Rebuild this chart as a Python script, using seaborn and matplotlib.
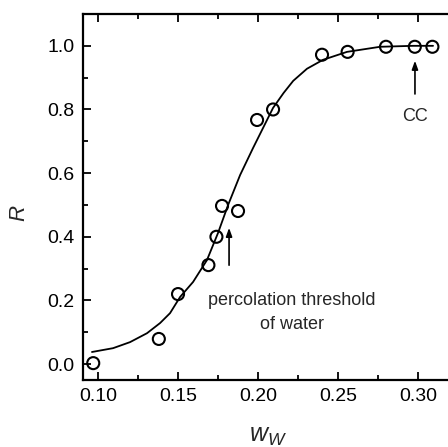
import matplotlib
matplotlib.use("Agg")
import matplotlib.pyplot as plt
import seaborn as sns
from matplotlib.ticker import MultipleLocator

# measured data points
ww_points = [0.097, 0.138, 0.150, 0.169, 0.174, 0.1775, 0.1875, 0.1994, 0.2094, 0.240, 0.256, 0.280, 0.298, 0.309]
r_points = [0.003, 0.079, 0.220, 0.311, 0.400, 0.497, 0.481, 0.767, 0.800, 0.972, 0.981, 0.997, 0.997, 0.997]

# fitted curve
ww_curve = [0.0962, 0.1094, 0.120, 0.1306, 0.1388, 0.145, 0.1513, 0.1594, 0.1681, 0.175, 0.1813,
            0.1888, 0.1969, 0.2094, 0.216, 0.222, 0.2306, 0.2406, 0.2556, 0.2763, 0.2969, 0.3094]
r_curve = [0.038, 0.050, 0.069, 0.097, 0.129, 0.160, 0.211, 0.258, 0.327, 0.412, 0.500,
           0.594, 0.679, 0.805, 0.852, 0.890, 0.928, 0.956, 0.981, 0.997, 1.000, 1.000]

x_ticks = [0.10, 0.15, 0.20, 0.25, 0.30]
y_ticks = [0.0, 0.2, 0.4, 0.6, 0.8, 1.0]

sns.set_style("ticks")
plt.rcParams['font.family'] = ['Liberation Sans', 'DejaVu Sans']
plt.rcParams['mathtext.fontset'] = 'custom'
plt.rcParams['mathtext.it'] = 'Liberation Sans:italic'
plt.rcParams['mathtext.rm'] = 'Liberation Sans'

fig = plt.figure(figsize=(4.48, 4.47), dpi=100)
ax = fig.add_axes([83/448, 1 - 380/447, 367/448, 366/447])

sns.lineplot(x=ww_curve, y=r_curve, color='black', linewidth=1.3, sort=False, ax=ax)
sns.scatterplot(x=ww_points, y=r_points, marker='o', s=75, facecolor='none',
                edgecolor='black', linewidth=1.5, ax=ax, zorder=3)

ax.set_xlim(0.0906, 0.3200)
ax.set_ylim(-0.05, 1.10)
ax.set_xticks(x_ticks)
ax.set_xticklabels([f"{v:.2f}" for v in x_ticks])
ax.set_yticks(y_ticks)
ax.set_yticklabels([f"{v:.1f}" for v in y_ticks])
ax.xaxis.set_minor_locator(MultipleLocator(0.025))
ax.yaxis.set_minor_locator(MultipleLocator(0.1))
ax.tick_params(which='both', direction='in', top=True, right=False, width=1.3, labelsize=14, colors='black')
ax.tick_params(which='major', length=6, pad=6)
ax.tick_params(which='minor', length=3.5)
for s in ax.spines.values():
    s.set_linewidth(1.6)
    s.set_color('black')

ax.set_ylabel("$R$", fontsize=16)
ax.yaxis.set_label_coords((20 - 83) / 367, (380 - 213) / 366)
ax.set_xlabel("$w_W$", fontsize=18)
ax.xaxis.set_label_coords((268 - 83) / 367, (380 - 436) / 366)
ax.xaxis.label.set_va('center')
ax.yaxis.label.set_va('center')

arrow = dict(arrowstyle='-|>,head_length=0.5,head_width=0.18', color='black', lw=1.2)
ax.annotate("", xy=(0.1819, 0.437), xytext=(0.1819, 0.302), arrowprops=arrow)
ax.annotate("", xy=(0.2981, 0.962), xytext=(0.2981, 0.840), arrowprops=arrow)
ax.text(0.2213, 0.201, "percolation threshold", ha='center', va='center', fontsize=13)
ax.text(0.2213, 0.123, "of water", ha='center', va='center', fontsize=13)
ax.text(0.2981, 0.777, "CC", ha='center', va='center', fontsize=13)

fig.savefig("out.png", dpi=100)
